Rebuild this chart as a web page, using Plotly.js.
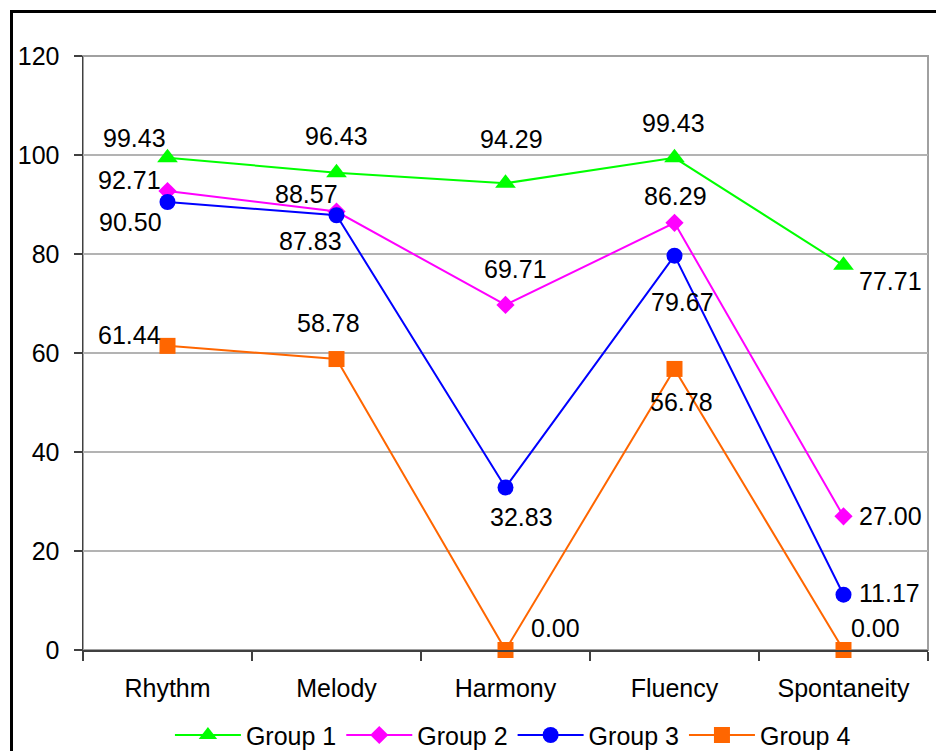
<!DOCTYPE html>
<html>
<head>
<meta charset="utf-8">
<script src="https://cdn.plot.ly/plotly-3.0.1.min.js"></script>
<style>
  html, body { margin: 0; padding: 0; background: #fff; overflow: hidden; }
  #chart { width: 936px; height: 751px; }
  #frame {
    position: absolute; left: 10px; top: 10px;
    width: 1000px; height: 1000px;
    border: 3px solid #000; box-sizing: border-box;
    pointer-events: none;
  }
</style>
</head>
<body>
<div id="chart"></div>
<div id="frame"></div>
<script>
// Skill categories
const categories = ["Rhythm", "Melody", "Harmony", "Fluency", "Spontaneity"];

// Scores per group
const group1 = [99.43, 96.43, 94.29, 99.43, 77.71];
const group2 = [92.71, 88.57, 69.71, 86.29, 27.00];
const group3 = [90.50, 87.83, 32.83, 79.67, 11.17];
const group4 = [61.44, 58.78, 0.00, 56.78, 0.00];

const seriesNames = ["Group 1", "Group 2", "Group 3", "Group 4"];

// y-axis ticks
const yTicks = [0, 20, 40, 60, 80, 100, 120];

// Styling per series
const styles = [
  { color: "#00FF00", symbol: "triangle-up", size: 18 },
  { color: "#FF00FF", symbol: "diamond", size: 14 },
  { color: "#0000FF", symbol: "circle", size: 16 },
  { color: "#FF6600", symbol: "square", size: 16 }
];

// Value-label offsets in pixels (dx right, dy down) for each point
const labelOffsets = [
  [[-33, -20], [0, -37], [6, -44], [-1, -35], [47, 16]],
  [[-38, -11], [-30, -18], [10, -36], [1, -27], [47, 0]],
  [[-37, 20], [-26, 26], [16, 30], [8, 46], [46, -2]],
  [[-38, -11], [-8, -36], [50, -22], [7, 33], [32, -22]]
];

const FONT = "Liberation Sans, Arial, sans-serif";
const allSeries = [group1, group2, group3, group4];

const traces = allSeries.map((vals, i) => ({
  type: "scatter",
  mode: "lines+markers",
  name: seriesNames[i],
  x: categories,
  y: vals,
  line: { color: styles[i].color, width: 2 },
  marker: { color: styles[i].color, symbol: styles[i].symbol, size: styles[i].size },
  cliponaxis: false,
  hoverinfo: "x+y"
}));

const annotations = [];
allSeries.forEach((vals, i) => {
  vals.forEach((v, j) => {
    annotations.push({
      x: categories[j], y: v, xref: "x", yref: "y",
      text: v.toFixed(2),
      showarrow: false,
      xanchor: "center", yanchor: "middle",
      xshift: labelOffsets[i][j][0],
      yshift: -labelOffsets[i][j][1],
      font: { family: FONT, size: 25, color: "#000" }
    });
  });
});

const layout = {
  width: 936, height: 751,
  margin: { l: 83, r: 8, t: 56, b: 101, autoexpand: false },
  paper_bgcolor: "rgba(0,0,0,0)",
  plot_bgcolor: "#fff",
  font: { family: FONT, size: 25, color: "#000" },
  showlegend: true,
  legend: {
    orientation: "h",
    xref: "container", yref: "container",
    x: 0.548, xanchor: "center",
    y: 0.021, yanchor: "middle",
    font: { family: FONT, size: 25, color: "#000" },
    itemwidth: 66,
    traceorder: "normal",
    bgcolor: "rgba(0,0,0,0)"
  },
  xaxis: {
    type: "category",
    range: [-0.5, 4.5],
    tickson: "boundaries",
    ticks: "outside", ticklen: 9, tickwidth: 1.5, tickcolor: "#404040",
    showline: true, linecolor: "#404040", linewidth: 1.5,
    showgrid: false, zeroline: false,
    automargin: false,
    ticklabelstandoff: 15,
    tickfont: { family: FONT, size: 25, color: "#000" },
    fixedrange: true
  },
  yaxis: {
    range: [0, 120],
    tickvals: yTicks,
    ticktext: yTicks.map(String),
    ticks: "outside", ticklen: 8, tickwidth: 1.5, tickcolor: "#404040",
    showline: true, linecolor: "#404040", linewidth: 1.5,
    showgrid: true, gridcolor: "#b3b3b3", gridwidth: 1.5,
    zeroline: false,
    automargin: false,
    ticklabelstandoff: 9,
    tickfont: { family: FONT, size: 25, color: "#000" },
    fixedrange: true
  },
  shapes: [
    {
      type: "rect", xref: "paper", yref: "paper",
      x0: 0, x1: 1, y0: 0, y1: 1,
      line: { color: "#a0a0a0", width: 2 },
      layer: "below"
    }
  ],
  annotations: annotations
};

Plotly.newPlot("chart", traces, layout, { displayModeBar: false, staticPlot: true });
</script>
</body>
</html>
